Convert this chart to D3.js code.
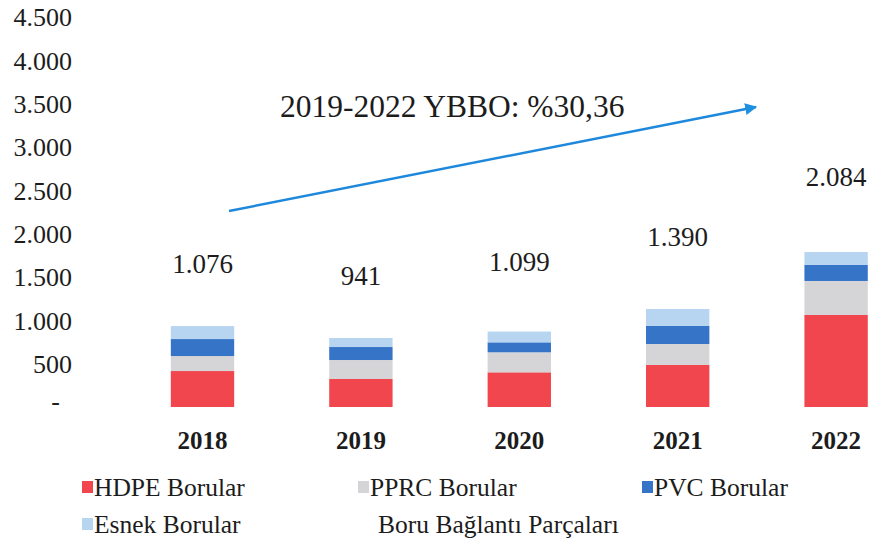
<!DOCTYPE html>
<html>
<head>
<meta charset="utf-8">
<script src="https://cdn.jsdelivr.net/npm/d3@7"></script>
<style>
  html, body { margin: 0; padding: 0; background: #fff; }
  svg { display: block; }
  svg text { font-family: "Liberation Serif", "Tinos", "Times New Roman", Times, "DejaVu Serif", serif; }
</style>
</head>
<body>
<svg id="chart" width="870" height="544"></svg>
<script>
// ---- data ----
const years = ["2018", "2019", "2020", "2021", "2022"];
const hdpe   = [415, 323, 400, 485, 1062];
const pprc   = [173, 219, 231, 242, 392];
const pvc    = [196, 150, 115, 208, 185];
const esnek  = [150, 104, 127, 196, 150];
const totals = [1076, 941, 1099, 1390, 2084];
const seriesNames = ["HDPE Borular", "PPRC Borular", "PVC Borular", "Esnek Borular", "Boru Bağlantı Parçaları"];
const yTicks = [0, 500, 1000, 1500, 2000, 2500, 3000, 3500, 4000, 4500];
const cagrLabel = "2019-2022 YBBO: %30,36";

// fittings (invisible series) = total minus visible parts
const fittings = totals.map((t, i) => t - hdpe[i] - pprc[i] - pvc[i] - esnek[i]);
const seriesValues = [hdpe, pprc, pvc, esnek, fittings];
const colors = ["#f2464e", "#d5d5d8", "#3674c8", "#b7d4f1", "#ffffff"];

const tr = d3.formatLocale({decimal: ",", thousands: ".", grouping: [3], currency: ["", ""]});
const fmt = tr.format(",d");

const svg = d3.select("#chart");

const x = d3.scaleBand().domain(years).range([123.3, 915.3]).paddingInner(0.6).paddingOuter(0.3);
const y = d3.scaleLinear().domain([0, 4500]).range([407, 17]);

// stacked data
const table = years.map((yr, i) => {
  const row = {year: yr};
  seriesNames.forEach((s, k) => row[s] = seriesValues[k][i]);
  return row;
});
const stack = d3.stack().keys(seriesNames)(table);

svg.append("g").selectAll("g")
  .data(stack)
  .join("g")
  .attr("fill", (d, k) => colors[k])
  .selectAll("rect")
  .data(d => d)
  .join("rect")
  .attr("x", d => x(d.data.year))
  .attr("width", x.bandwidth())
  .attr("y", d => y(d[1]))
  .attr("height", d => y(d[0]) - y(d[1]));

// y axis
const yAxis = d3.axisLeft(y)
  .tickValues(yTicks)
  .tickSize(0)
  .tickPadding(0)
  .tickFormat(v => v === 0 ? "-" : fmt(v));
const gy = svg.append("g").attr("transform", "translate(72,0)").call(yAxis);
gy.attr("font-family", null);
gy.select(".domain").remove();
gy.selectAll("text")
  .attr("font-size", 26)
  .attr("fill", "#1c1c1c")
  .attr("dy", "0.34em");
gy.selectAll(".tick").filter(d => d === 0).select("text").attr("x", -12).attr("dy", "0.1em");

// x axis
const xAxis = d3.axisBottom(x).tickSize(0).tickPadding(0);
const gx = svg.append("g").attr("transform", "translate(0,440)").call(xAxis);
gx.attr("font-family", null);
gx.select(".domain").remove();
gx.selectAll("text")
  .attr("font-size", 25)
  .attr("font-weight", "bold")
  .attr("fill", "#1c1c1c")
  .attr("dy", "0.34em")
  .attr("y", 0);

// total labels
svg.append("g").selectAll("text")
  .data(years)
  .join("text")
  .attr("x", d => x(d) + x.bandwidth() / 2)
  .attr("y", (d, i) => y(totals[i]) - 50)
  .attr("dy", "0.34em")
  .attr("text-anchor", "middle")
  .attr("font-size", 27)
  .attr("fill", "#1c1c1c")
  .text((d, i) => fmt(totals[i]));

// CAGR arrow annotation
const defs = svg.append("defs");
defs.append("marker")
  .attr("id", "arrow")
  .attr("viewBox", "0 0 10 10")
  .attr("refX", 9).attr("refY", 5)
  .attr("markerWidth", 5).attr("markerHeight", 5)
  .attr("markerUnits", "strokeWidth")
  .attr("orient", "auto")
  .append("path").attr("d", "M0,0 L10,5 L0,10 z").attr("fill", "#1e90e0");
svg.append("line")
  .attr("x1", 229).attr("y1", 211)
  .attr("x2", 756).attr("y2", 107)
  .attr("stroke", "#1e88dc").attr("stroke-width", 2.4)
  .attr("marker-end", "url(#arrow)");
svg.append("text")
  .attr("x", 280).attr("y", 117)
  .attr("font-size", 31.5)
  .attr("fill", "#1c1c1c")
  .text(cagrLabel);

// legend
const legendPos = [[82, 487], [358, 487], [642, 487], [82, 524], [362, 524]];
const lg = svg.append("g").selectAll("g")
  .data(seriesNames)
  .join("g")
  .attr("transform", (d, k) => `translate(${legendPos[k][0]},${legendPos[k][1]})`);
lg.append("rect")
  .attr("x", 0).attr("y", -6).attr("width", 11).attr("height", 12)
  .attr("fill", (d, k) => colors[k]);
lg.append("text")
  .attr("x", (d, k) => k === 4 ? 16 : 12)
  .attr("dy", "0.34em")
  .attr("font-size", 25.5)
  .attr("fill", "#1c1c1c")
  .text(d => d);
</script>
</body>
</html>
